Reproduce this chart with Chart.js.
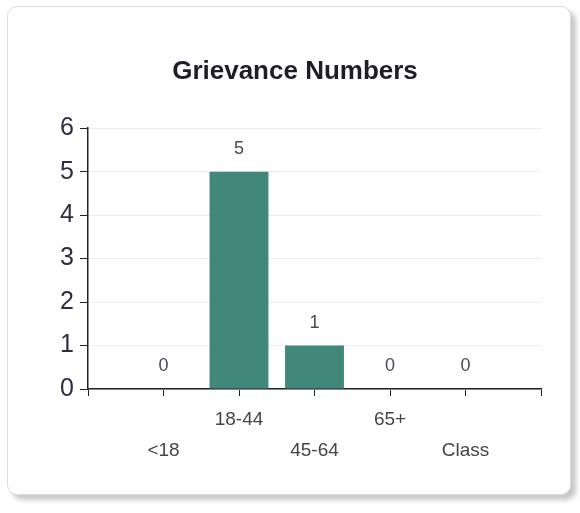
<!DOCTYPE html>
<html>
<head>
<meta charset="utf-8">
<script src="https://cdn.jsdelivr.net/npm/chart.js@4"></script>
<style>
  body { margin: 0; background: #fff; width: 580px; height: 513px; overflow: hidden; }
  .card {
    position: absolute; left: 7px; top: 6px; width: 562px; height: 487px;
    border: 1px solid #dcdcdc; border-radius: 10px;
    box-shadow: 5px 5px 5px rgba(0,0,0,0.22); background: #fff;
  }
  #chart { position: absolute; left: 0; top: 0; }
</style>
</head>
<body>
<div class="card"></div>
<canvas id="chart" width="580" height="513"></canvas>
<script>
const categories = ['<18', '18-44', '45-64', '65+', 'Class'];
const grievances = [0, 5, 1, 0, 0];
const yTicks = [0, 1, 2, 3, 4, 5, 6];

// empty slots at both ends so the categories sit on the tick marks
const labels = [''].concat(categories, ['']);
const values = [null].concat(grievances, [null]);

const fontFam = "'Liberation Sans', Arial, sans-serif";

const valueLabels = {
  id: 'valueLabels',
  afterDatasetsDraw(chart) {
    const ctx = chart.ctx;
    const meta = chart.getDatasetMeta(0);
    ctx.save();
    ctx.font = '18px ' + fontFam;
    ctx.fillStyle = '#4a4a58';
    ctx.textAlign = 'center';
    ctx.textBaseline = 'middle';
    meta.data.forEach((bar, i) => {
      if (values[i] === null) return;
      ctx.fillText(String(values[i]), bar.x, bar.y - 23);
    });
    ctx.restore();
  }
};

new Chart(document.getElementById('chart'), {
  type: 'bar',
  data: {
    labels: labels,
    datasets: [{
      data: values,
      backgroundColor: '#42887a',
      categoryPercentage: 1,
      barPercentage: 0.78
    }]
  },
  plugins: [valueLabels],
  options: {
    responsive: false,
    animation: false,
    layout: { padding: { left: 10, right: 0, top: 0, bottom: 0 } },
    plugins: {
      legend: { display: false },
      tooltip: { enabled: false },
      title: {
        display: true,
        text: 'Grievance Numbers',
        color: '#1e1e28',
        font: { size: 26, weight: 'bold', family: fontFam },
        padding: { top: 56, bottom: 41 }
      }
    },
    scales: {
      x: {
        offset: false,
        grid: { offset: false, drawOnChartArea: false, tickColor: '#222', tickLength: 7 },
        border: { color: '#222', width: 1.5 },
        ticks: {
          autoSkip: false,
          maxRotation: 0,
          padding: 8,
          color: '#454545',
          font: { size: 19, family: fontFam, lineHeight: 1.63 },
          callback: function (v, i) {
            const l = labels[i];
            if (!l) return '';
            return (i % 2 === 0) ? [l] : ['', l];
          }
        },
        afterFit: s => { s.height = 124; }
      },
      y: {
        min: yTicks[0],
        max: yTicks[yTicks.length - 1],
        afterBuildTicks: s => { s.ticks = yTicks.map(v => ({ value: v })); },
        grid: { color: '#ececec', tickColor: '#222', tickLength: 8 },
        border: { color: '#222', width: 1.5 },
        ticks: {
          padding: 6,
          color: '#2e2e40',
          font: { size: 25, family: fontFam }
        },
        afterFit: s => { s.width = 78; }
      },
      // blank right-hand spacer so the plot ends where the reference does
      spacer: {
        type: 'linear',
        position: 'right',
        grid: { display: false },
        border: { display: false },
        ticks: { display: false },
        afterFit: s => { s.width = 39; }
      }
    }
  }
});
</script>
</body>
</html>
